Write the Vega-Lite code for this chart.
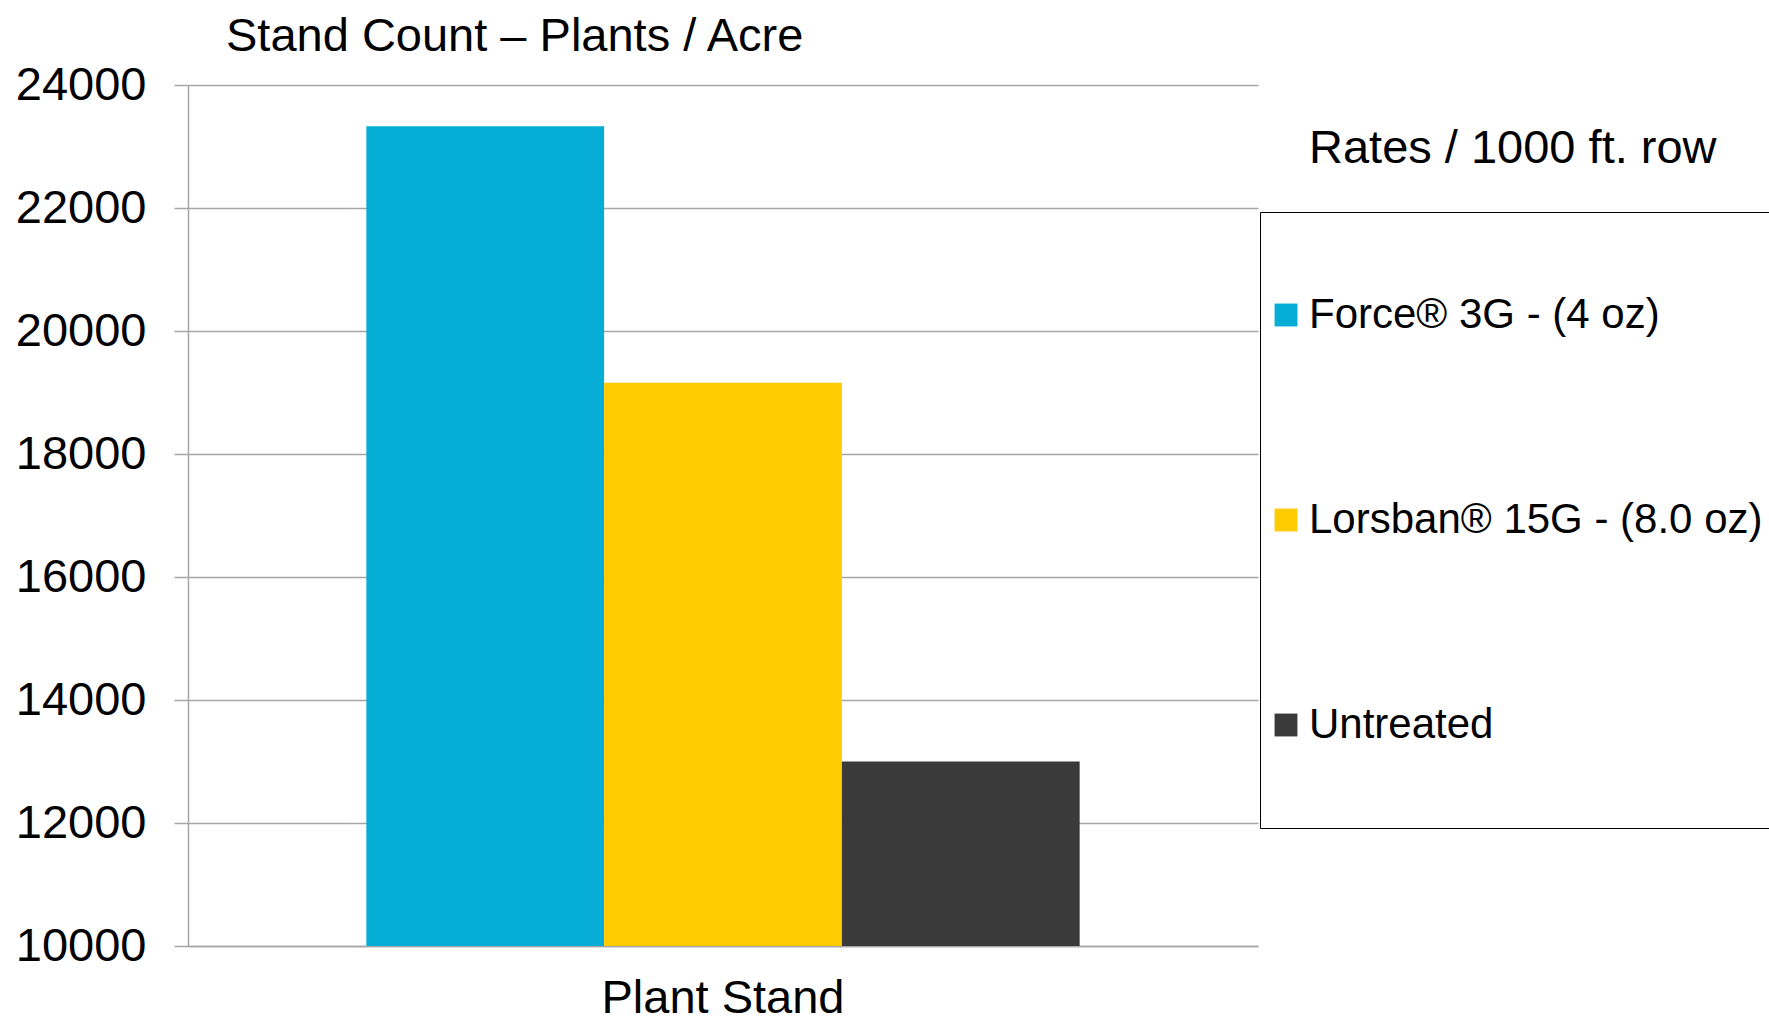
{
  "$schema": "https://vega.github.io/schema/vega-lite/v6.json",
  "width": 1070,
  "height": 861,
  "autosize": {"type": "none"},
  "padding": {"left": 188, "top": 85, "right": 511, "bottom": 77},
  "background": "white",
  "config": {"font": "Liberation Sans", "view": {"stroke": null}},
  "title": {
    "text": "Stand Count – Plants / Acre",
    "anchor": "start",
    "frame": "group",
    "dx": 38,
    "fontSize": 47,
    "fontWeight": "normal",
    "font": "Liberation Sans",
    "color": "black",
    "baseline": "alphabetic",
    "offset": -37,
    "limit": 1200
  },
  "data": {
    "values": [
      {"category": "Plant Stand", "treatment": "Force® 3G - (4 oz)", "plants": 23330},
      {"category": "Plant Stand", "treatment": "Lorsban® 15G - (8.0 oz)", "plants": 19160},
      {"category": "Plant Stand", "treatment": "Untreated", "plants": 13000}
    ]
  },
  "mark": {"type": "bar", "clip": true},
  "encoding": {
    "x": {
      "field": "category",
      "type": "nominal",
      "scale": {"paddingInner": 0, "paddingOuter": 0.25},
      "axis": {
        "title": null,
        "labelAngle": 0,
        "labelFontSize": 47,
        "labelColor": "black",
        "labelLimit": 1000,
        "ticks": false,
        "tickSize": 0,
        "labelPadding": 29,
        "domainColor": "#A6A6A6",
        "domainWidth": 1.5,
        "grid": false
      }
    },
    "xOffset": {
      "field": "treatment",
      "type": "nominal",
      "sort": ["Force® 3G - (4 oz)", "Lorsban® 15G - (8.0 oz)", "Untreated"],
      "scale": {"paddingInner": 0, "paddingOuter": 0}
    },
    "y": {
      "field": "plants",
      "type": "quantitative",
      "scale": {"domain": [10000, 24000], "nice": false, "zero": false},
      "axis": {
        "title": null,
        "values": [10000, 12000, 14000, 16000, 18000, 20000, 22000, 24000],
        "format": "d",
        "labelFontSize": 47,
        "labelColor": "black",
        "labelPadding": 28,
        "tickSize": 14,
        "tickColor": "#A6A6A6",
        "tickWidth": 1.5,
        "domainColor": "#A6A6A6",
        "domainWidth": 1.5,
        "gridColor": "#A6A6A6",
        "gridWidth": 1.3
      }
    },
    "color": {
      "field": "treatment",
      "type": "nominal",
      "sort": ["Force® 3G - (4 oz)", "Lorsban® 15G - (8.0 oz)", "Untreated"],
      "scale": {"range": ["#06ADD5", "#FECB00", "#3A3A3A"]},
      "legend": {
        "title": null,
        "orient": "none",
        "legendX": 1072,
        "legendY": 127,
        "strokeColor": "black",
        "padding": 15,
        "labelFontSize": 42,
        "labelColor": "black",
        "labelLimit": 1000,
        "symbolType": "M0,-1M0,1M-0.13,-0.13H0.13V0.13H-0.13Z",
        "symbolSize": 30976,
        "symbolStrokeWidth": 0,
        "symbolOffset": -77,
        "labelOffset": -65,
        "rowPadding": 29
      }
    },
    "strokeWidth": {
      "datum": "Rates",
      "type": "ordinal",
      "scale": {"range": [0]},
      "legend": {
        "title": "Rates / 1000 ft. row",
        "orient": "none",
        "legendX": 1121,
        "legendY": 41,
        "padding": 0,
        "titleFontSize": 47,
        "titleFontWeight": "normal",
        "titleColor": "black",
        "titleLimit": 1000,
        "symbolOpacity": 0,
        "labelOpacity": 0,
        "labelFontSize": 1,
        "symbolSize": 1
      }
    }
  }
}
